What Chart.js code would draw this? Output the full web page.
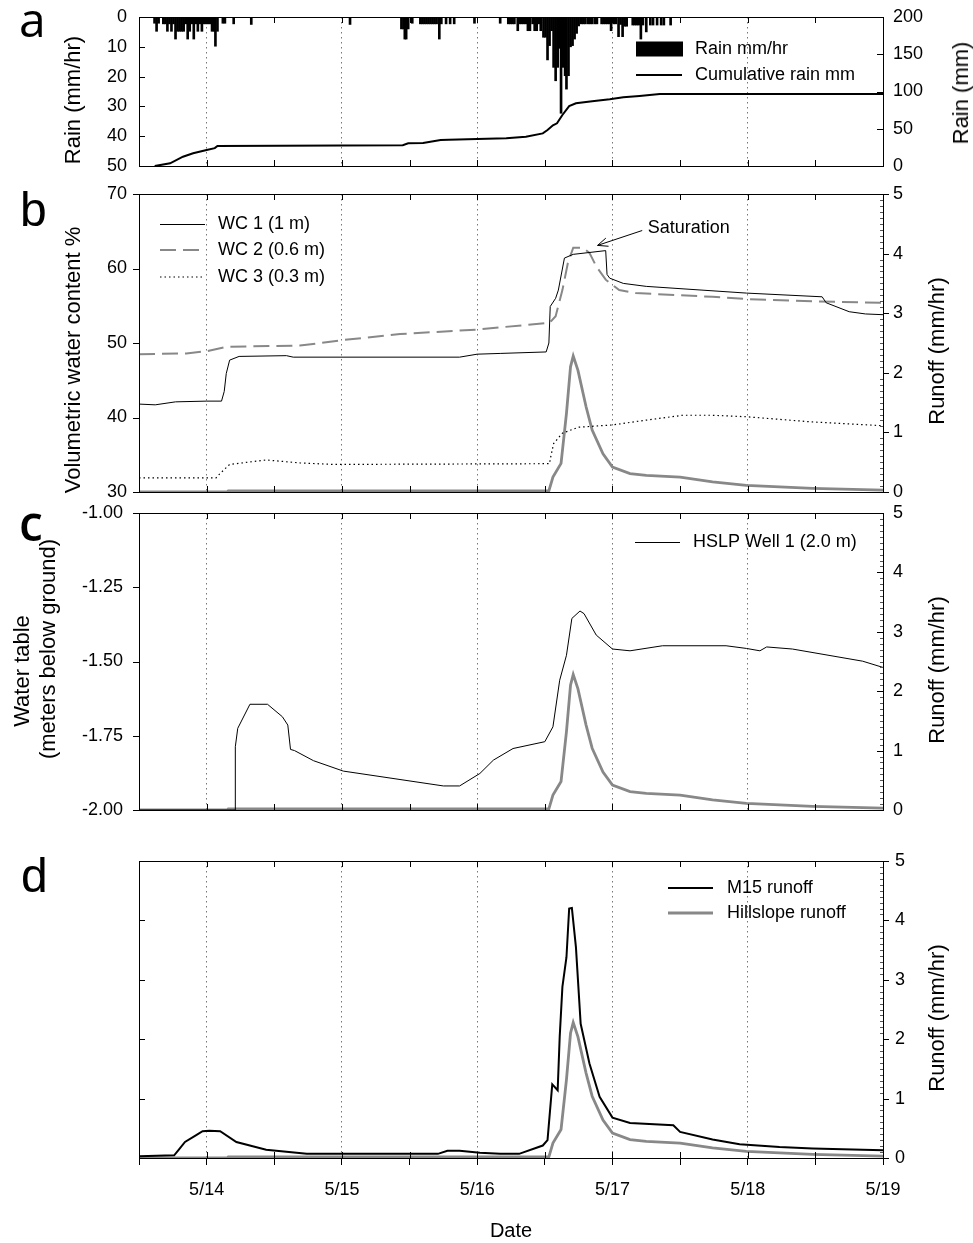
<!DOCTYPE html>
<html>
<head>
<meta charset="utf-8">
<script src="https://cdn.jsdelivr.net/npm/chart.js@4.4.1/dist/chart.umd.min.js"></script>
<style>
  body { margin: 0; background: #fff; }
  #page { position: relative; width: 973px; height: 1243px; overflow: hidden; font-family: 'Liberation Sans', Arial, sans-serif; color: #000; }
  canvas { position: absolute; left: 0; }
  .lbl { position: absolute; font-size: 48px; line-height: 48px; }
  .vt { position: absolute; font-size: 22px; line-height: 22px; white-space: nowrap; transform: translate(-50%, -50%) rotate(-90deg); }
</style>
</head>
<body>
<div id="page">
  <canvas id="chartA" width="973" height="180" style="top:0px"></canvas>
  <canvas id="chartB" width="973" height="322" style="top:180px"></canvas>
  <canvas id="chartC" width="973" height="318" style="top:502px"></canvas>
  <canvas id="chartD" width="973" height="423" style="top:820px"></canvas>

  <div class="lbl" style="left:19px;top:-5px;font-family:'Open Sans'">a</div>
  <div class="lbl" style="left:20px;top:186px">b</div>
  <div class="lbl" style="left:19px;top:499px;font-family:'Open Sans';font-weight:600">c</div>
  <div class="lbl" style="left:21px;top:852px">d</div>

  <div class="vt" style="left:73px;top:100px">Rain (mm/hr)</div>
  <div class="vt" style="left:961px;top:93px">Rain (mm)</div>
  <div class="vt" style="left:73px;top:360px">Volumetric water content %</div>
  <div class="vt" style="left:937px;top:351px">Runoff (mm/hr)</div>
  <div class="vt" style="left:22px;top:671px">Water table</div>
  <div class="vt" style="left:48px;top:649px">(meters below ground)</div>
  <div class="vt" style="left:937px;top:670px">Runoff (mm/hr)</div>
  <div class="vt" style="left:937px;top:1018px">Runoff (mm/hr)</div>
</div>

<script>
// Dias de maio (5/14 = 14)
const rainDay = [13.615, 13.63, 13.645,
  13.68, 13.695, 13.71, 13.725, 13.74, 13.755, 13.77, 13.785, 13.80, 13.815, 13.83, 13.845, 13.86, 13.875, 13.89, 13.905, 13.92, 13.935, 13.95, 13.965,
  13.98, 13.995, 14.01, 14.025, 14.04, 14.055, 14.065, 14.08,
  14.12, 14.135, 14.2, 14.33, 15.06,
  15.44, 15.455, 15.465, 15.475, 15.49, 15.52,
  15.58, 15.595, 15.61, 15.625, 15.64, 15.655, 15.67, 15.685, 15.70, 15.72, 15.735,
  15.77, 15.80, 15.83, 15.98, 16.17,
  16.23, 16.245, 16.26, 16.275, 16.30, 16.315, 16.33, 16.345, 16.36, 16.375, 16.39, 16.41, 16.425, 16.44, 16.455, 16.47, 16.49, 16.505, 16.52, 16.535, 16.55,
  16.565, 16.58, 16.595, 16.61, 16.62, 16.635, 16.65, 16.66, 16.675, 16.69, 16.705, 16.72, 16.735, 16.75,
  16.77, 16.785, 16.80, 16.82, 16.835, 16.85, 16.87, 16.885,
  16.92, 16.935, 16.95, 16.965, 16.98, 16.99, 17.01, 17.025,
  17.045, 17.06, 17.075, 17.09, 17.105,
  17.15, 17.165, 17.18, 17.195, 17.21, 17.225, 17.25,
  17.28, 17.30, 17.33, 17.36, 17.38, 17.43];
const rainRate = [2.1, 4.8, 2.1,
  2.3, 2.3, 4.8, 2.3, 4.8, 2.3, 7.4, 4.8, 4.8, 4.8, 4.8, 2.3, 7.4, 4.8, 2.3, 7.4, 2.3, 4.8, 2.3, 4.8,
  2.3, 2.3, 2.3, 2.3, 4.8, 4.8, 9.8, 4.8,
  2.1, 2.1, 2.3, 2.5, 2.5,
  4.0, 4.0, 7.4, 7.4, 4.0, 2.1,
  2.3, 2.3, 2.3, 2.3, 2.3, 2.3, 2.3, 2.3, 2.3, 7.4, 2.3,
  2.3, 2.3, 2.3, 2.1, 2.1,
  2.3, 2.3, 2.3, 2.3, 4.6, 2.3, 2.3, 2.3, 2.3, 4.6, 4.6, 2.3, 4.6, 4.6, 2.3, 4.6, 6.8, 6.8, 14.4, 9.6, 4.6,
  16.9, 21.4, 16.9, 10.5, 32.3, 16.9, 19.7, 24.2, 19.7, 10.0, 9.6, 7.4, 5.5, 3.0,
  2.3, 2.3, 2.3, 2.3, 2.3, 2.3, 2.3, 2.3,
  2.3, 2.3, 2.3, 2.3, 2.3, 4.6, 2.3, 2.3,
  6.6, 2.5, 6.6, 3.1, 3.1,
  2.7, 2.7, 2.7, 2.7, 7.4, 2.7, 5.0,
  2.7, 2.7, 2.7, 2.7, 2.7, 2.7];

const cumDay = [13.616, 13.73, 13.825, 13.90, 14.0, 14.06, 14.08, 15.45, 15.49, 15.6, 15.73, 15.79, 16.0, 16.215, 16.36, 16.485, 16.52, 16.56, 16.59, 16.63, 16.68, 16.73, 16.85, 16.98, 17.08, 17.2, 17.35, 19.0];
const cumMm = [0, 3.6, 12.5, 17, 21.5, 24, 27, 27.8, 30.4, 30.8, 34.9, 35.2, 36.3, 37.1, 39.3, 43.8, 48.3, 54.6, 57.3, 68.5, 80.5, 84.2, 87, 89.5, 92.2, 94, 96.6, 96.6];

const wc1Day = [13.5, 13.62, 13.77, 14.0, 14.11, 14.13, 14.145, 14.17, 14.24, 14.59, 14.64, 15.87, 16.0, 16.17, 16.51, 16.53, 16.54, 16.58, 16.60, 16.645, 16.71, 16.95, 16.96, 16.98, 17.08, 17.25, 17.99, 18.55, 18.58, 18.75, 18.87, 19.0];
const wc1Pct = [41.8, 41.7, 42.1, 42.2, 42.2, 43.5, 45.9, 47.7, 48.2, 48.3, 48.1, 48.1, 48.5, 48.6, 48.8, 50.0, 54.9, 56.0, 57.1, 61.4, 61.9, 62.4, 59.2, 58.7, 58.0, 57.6, 56.7, 56.2, 55.4, 54.2, 53.9, 53.8];

const wc2Day = [13.5, 13.85, 14.0, 14.15, 14.69, 14.84, 15.01, 15.43, 16.0, 16.17, 16.535, 16.58, 16.63, 16.67, 16.71, 16.78, 16.83, 16.88, 16.95, 17.05, 17.17, 17.74, 17.99, 18.48, 19.0];
const wc2Pct = [48.5, 48.6, 48.9, 49.5, 49.65, 50.0, 50.4, 51.2, 51.8, 52.1, 52.7, 53.6, 57.1, 60.7, 62.8, 62.8, 62.1, 60.3, 58.5, 57.1, 56.7, 56.2, 55.9, 55.6, 55.4];

const wc3Day = [13.5, 14.07, 14.1, 14.17, 14.44, 14.69, 14.94, 16.535, 16.54, 16.565, 16.63, 16.75, 17.0, 17.25, 17.52, 17.74, 17.99, 18.48, 19.0];
const wc3Pct = [31.9, 31.9, 32.5, 33.7, 34.3, 33.9, 33.7, 33.8, 34.4, 36.5, 37.9, 38.7, 39.0, 39.65, 40.3, 40.3, 40.1, 39.4, 38.9];

const hillDay = [13.5, 14.15, 14.16, 16.53, 16.56, 16.62, 16.66, 16.69, 16.71, 16.745, 16.805, 16.85, 16.93, 17.0, 17.13, 17.25, 17.5, 17.74, 17.99, 18.48, 19.0];
const hillRunoff = [0, 0, 0.02, 0.02, 0.25, 0.48, 1.32, 2.1, 2.28, 2.04, 1.43, 1.04, 0.64, 0.42, 0.31, 0.28, 0.25, 0.17, 0.11, 0.06, 0.03];

const wellDay = [13.5, 14.21, 14.212, 14.23, 14.32, 14.45, 14.56, 14.6, 14.62, 14.65, 14.79, 15.01, 15.75, 15.87, 16.02, 16.12, 16.265, 16.5, 16.56, 16.61, 16.66, 16.70, 16.76, 16.79, 16.88, 17.0, 17.13, 17.37, 17.84, 17.99, 18.09, 18.14, 18.33, 18.85, 19.0];
const wellDepth = [-2.0, -2.0, -1.787, -1.725, -1.644, -1.644, -1.686, -1.714, -1.796, -1.80, -1.834, -1.869, -1.919, -1.919, -1.877, -1.832, -1.793, -1.77, -1.72, -1.563, -1.479, -1.355, -1.330, -1.339, -1.411, -1.458, -1.464, -1.447, -1.447, -1.456, -1.464, -1.451, -1.458, -1.499, -1.52];

const m15Day = [13.5, 13.76, 13.79, 13.84, 13.92, 13.97, 14.02, 14.1, 14.22, 14.44, 14.74, 15.71, 15.78, 15.87, 16.02, 16.17, 16.31, 16.485, 16.52, 16.555, 16.595, 16.61, 16.63, 16.66, 16.68, 16.70, 16.73, 16.765, 16.83, 16.905, 17.0, 17.13, 17.45, 17.50, 17.74, 17.94, 18.235, 18.48, 19.0];
const m15Runoff = [0.03, 0.045, 0.13, 0.27, 0.38, 0.45, 0.46, 0.45, 0.27, 0.14, 0.07, 0.07, 0.12, 0.12, 0.09, 0.07, 0.07, 0.21, 0.30, 1.24, 1.14, 2.04, 2.88, 3.38, 4.2, 4.21, 3.55, 2.26, 1.59, 1.03, 0.68, 0.59, 0.55, 0.44, 0.31, 0.23, 0.185, 0.16, 0.13];

// Anotação "Saturation" (em unidades dos eixos x / y)
const satText = [17.26, 65.4];
const satArrowFrom = [17.22, 65.1];
const satArrowTo = [16.89, 63.1];

const GREY = '#888';
const WC2_DASH = [16, 7];

Chart.defaults.font.family = "'Liberation Sans', Arial, sans-serif";
Chart.defaults.font.size = 18;
Chart.defaults.color = '#000';
Chart.defaults.animation = false;
Chart.defaults.plugins.legend.display = false;
Chart.defaults.plugins.tooltip.enabled = false;

function pts(days, vals) {
  return days.map((d, i) => ({ x: d, y: vals[i] }));
}

function line(days, vals, axis, color, width, dash) {
  return {
    type: 'line', data: pts(days, vals), yAxisID: axis,
    borderColor: color, borderWidth: width, borderDash: dash || [],
    pointRadius: 0, tension: 0, fill: false
  };
}

function xScale(height, withLabels) {
  return {
    type: 'linear', min: 13.5, max: 19, offset: false,
    ticks: {
      stepSize: 0.5, autoSkip: false, maxRotation: 0, display: withLabels, padding: 16,
      font: { size: 18, lineHeight: 1 },
      callback: v => Number.isInteger(v) ? '5/' + v : ''
    },
    grid: {
      offset: false, drawTicks: withLabels, tickLength: 7, tickColor: '#000',
      color: c => (c.tick && Number.isInteger(c.tick.value) && c.tick.value < 19) ? '#777' : 'rgba(0,0,0,0)'
    },
    border: { display: false, dash: [1.5, 3.5] },
    title: { display: withLabels, text: 'Date', font: { size: 20 }, padding: 0 },
    afterFit: s => { s.height = height; }
  };
}

function yScale(pos, min, max, step, pad, extra) {
  const s = {
    type: 'linear', position: pos, min: min, max: max,
    ticks: { stepSize: step, padding: pad, font: { size: 18, lineHeight: 1 } },
    grid: { display: false, drawTicks: false },
    border: { display: false },
    afterFit: sc => {
      sc.width = pos === 'left' ? 139 : 90;
      sc.paddingTop = 0;
      sc.paddingBottom = 0;
    }
  };
  if (extra) {
    if (extra.ticks) Object.assign(s.ticks, extra.ticks);
    if (extra.reverse) s.reverse = true;
  }
  return s;
}

// moldura, marcas internas, legenda e anotação
const framePlugin = {
  id: 'frame',
  afterDraw(chart, args, opts) {
    const { ctx, chartArea: a, scales } = chart;
    ctx.save();
    ctx.strokeStyle = '#000';
    ctx.lineWidth = 1;
    ctx.setLineDash([]);
    scales.x.ticks.forEach(t => {
      const px = Math.round(scales.x.getPixelForValue(t.value)) + 0.5;
      ctx.beginPath();
      ctx.moveTo(px, a.top); ctx.lineTo(px, a.top + 6);
      ctx.moveTo(px, a.bottom); ctx.lineTo(px, a.bottom - 6);
      ctx.stroke();
    });
    ['y', 'y2'].forEach(id => {
      const s = scales[id];
      if (!s) return;
      const edge = id === 'y' ? a.left : a.right;
      const inward = id === 'y' ? 1 : -1;
      const dir = opts[id] === 'out' ? -inward : inward;
      s.ticks.forEach(t => {
        const py = Math.round(s.getPixelForValue(t.value)) + 0.5;
        ctx.beginPath(); ctx.moveTo(edge, py); ctx.lineTo(edge + dir * 6, py); ctx.stroke();
      });
      if (opts.minor && id === 'y2') {
        ctx.strokeStyle = '#555';
        for (let i = 1; i < 50; i++) {
          if (i % 10 === 0) continue;
          const py = Math.round(s.getPixelForValue(i / 10)) + 0.5;
          ctx.beginPath(); ctx.moveTo(edge, py); ctx.lineTo(edge - 3, py); ctx.stroke();
        }
        ctx.strokeStyle = '#000';
      }
    });
    ctx.strokeRect(Math.round(a.left) + 0.5, Math.round(a.top) + 0.5, Math.round(a.width), Math.round(a.height));

    ctx.font = "18px 'Liberation Sans', Arial, sans-serif";
    ctx.textBaseline = 'middle';
    ctx.fillStyle = '#000';
    (opts.keys || []).forEach(k => {
      if (k.box) {
        ctx.fillStyle = k.color;
        ctx.fillRect(k.x1, k.y - 7.5, k.x2 - k.x1, 15);
      } else {
        const yy = k.width % 2 === 1 ? k.y + 0.5 : k.y;
        ctx.strokeStyle = k.color;
        ctx.lineWidth = k.width;
        ctx.setLineDash(k.dash || []);
        ctx.beginPath(); ctx.moveTo(k.x1, yy); ctx.lineTo(k.x2, yy); ctx.stroke();
        ctx.setLineDash([]);
      }
      ctx.fillStyle = '#000';
      ctx.fillText(k.label, k.tx, k.y);
    });

    if (opts.sat) {
      const x = scales.x, y = scales.y;
      ctx.fillText('Saturation', x.getPixelForValue(satText[0]), y.getPixelForValue(satText[1]));
      const x0 = x.getPixelForValue(satArrowFrom[0]), y0 = y.getPixelForValue(satArrowFrom[1]);
      const x1 = x.getPixelForValue(satArrowTo[0]), y1 = y.getPixelForValue(satArrowTo[1]);
      const ang = Math.atan2(y0 - y1, x0 - x1);
      ctx.strokeStyle = '#000';
      ctx.lineWidth = 1;
      ctx.beginPath();
      ctx.moveTo(x0, y0); ctx.lineTo(x1, y1);
      ctx.moveTo(x1 + 11 * Math.cos(ang + 0.4), y1 + 11 * Math.sin(ang + 0.4));
      ctx.lineTo(x1, y1);
      ctx.lineTo(x1 + 11 * Math.cos(ang - 0.4), y1 + 11 * Math.sin(ang - 0.4));
      ctx.stroke();
    }
    ctx.restore();
  }
};

function baseOptions(padTop, scales, frame) {
  return {
    responsive: false,
    layout: { padding: { top: padTop, left: 0, right: 0, bottom: 0 } },
    scales: scales,
    plugins: { frame: frame }
  };
}

// a: chuva
new Chart(document.getElementById('chartA'), {
  type: 'line',
  data: {
    datasets: [
      { type: 'bar', data: pts(rainDay, rainRate), yAxisID: 'y', backgroundColor: '#000', borderWidth: 0, barThickness: 2, grouped: false },
      line(cumDay, cumMm, 'y2', '#000', 2)
    ]
  },
  options: baseOptions(17, {
    x: xScale(14, false),
    y: yScale('left', 0, 50, 10, 12, { reverse: true }),
    y2: yScale('right', 0, 200, 50, 10)
  }, {
    y: 'in', y2: 'in',
    keys: [
      { box: true, x1: 636, x2: 683, y: 49, color: '#000', label: 'Rain mm/hr', tx: 695 },
      { x1: 636, x2: 682, y: 75, color: '#000', width: 2, label: 'Cumulative rain mm', tx: 695 }
    ]
  }),
  plugins: [framePlugin]
});

// b: conteúdo de água
new Chart(document.getElementById('chartB'), {
  type: 'line',
  data: {
    datasets: [
      line(wc1Day, wc1Pct, 'y', '#000', 1),
      line(wc2Day, wc2Pct, 'y', GREY, 2, WC2_DASH),
      line(wc3Day, wc3Pct, 'y', '#000', 1.2, [1.5, 3]),
      line(hillDay, hillRunoff, 'y2', GREY, 2.8)
    ]
  },
  options: baseOptions(14, {
    x: xScale(10, false),
    y: yScale('left', 30, 70, 10, 12),
    y2: yScale('right', 0, 5, 1, 10)
  }, {
    y: 'out', y2: 'out', minor: true, sat: true,
    keys: [
      { x1: 160, x2: 205, y: 44, color: '#000', width: 1, label: 'WC 1 (1 m)', tx: 218 },
      { x1: 160, x2: 205, y: 70, color: GREY, width: 2, dash: WC2_DASH, label: 'WC 2 (0.6 m)', tx: 218 },
      { x1: 160, x2: 205, y: 97, color: '#000', width: 1.2, dash: [1.5, 3], label: 'WC 3 (0.3 m)', tx: 218 }
    ]
  }),
  plugins: [framePlugin]
});

// c: lençol freático
new Chart(document.getElementById('chartC'), {
  type: 'line',
  data: {
    datasets: [
      line(wellDay, wellDepth, 'y', '#000', 1),
      line(hillDay, hillRunoff, 'y2', GREY, 2.8)
    ]
  },
  options: baseOptions(11, {
    x: xScale(10, false),
    y: yScale('left', -2, -1, 0.25, 16, { ticks: { callback: v => v.toFixed(2) } }),
    y2: yScale('right', 0, 5, 1, 10)
  }, {
    y: 'out', y2: 'in', minor: true,
    keys: [
      { x1: 635, x2: 680, y: 40, color: '#000', width: 1, label: 'HSLP Well 1 (2.0 m)', tx: 693 }
    ]
  }),
  plugins: [framePlugin]
});

// d: escoamento
new Chart(document.getElementById('chartD'), {
  type: 'line',
  data: {
    datasets: [
      line(m15Day, m15Runoff, 'y2', '#000', 2),
      line(hillDay, hillRunoff, 'y2', GREY, 2.8)
    ]
  },
  options: baseOptions(41, {
    x: xScale(85, true),
    y: yScale('left', 0, 5, 1, 12, { ticks: { display: false } }),
    y2: yScale('right', 0, 5, 1, 12)
  }, {
    y: 'in', y2: 'out', minor: true,
    keys: [
      { x1: 668, x2: 713, y: 68, color: '#000', width: 2, label: 'M15 runoff', tx: 727 },
      { x1: 668, x2: 713, y: 93, color: GREY, width: 2.8, label: 'Hillslope runoff', tx: 727 }
    ]
  }),
  plugins: [framePlugin]
});
</script>
</body>
</html>
